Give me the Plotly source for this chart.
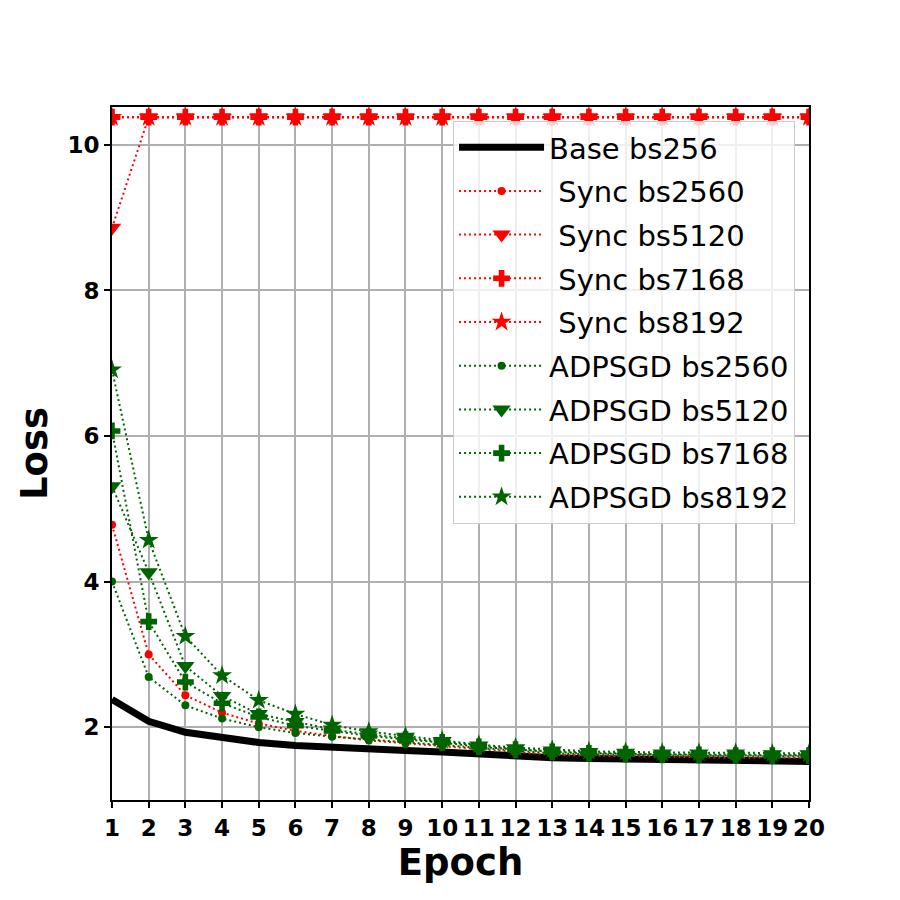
import plotly.graph_objects as go

epochs = list(range(1, 21))

base_bs256 = [2.38, 2.08, 1.93, 1.85, 1.79, 1.75, 1.72, 1.70, 1.68, 1.66, 1.63, 1.60, 1.58, 1.57, 1.56, 1.55, 1.55, 1.54, 1.54, 1.53]
sync_bs2560 = [4.78, 3.00, 2.44, 2.20, 2.05, 1.95, 1.88, 1.82, 1.78, 1.74, 1.69, 1.65, 1.62, 1.61, 1.60, 1.59, 1.59, 1.58, 1.58, 1.58]
sync_bs5120 = [8.86] + [10.38] * 19
sync_bs7168 = [10.38] * 20
sync_bs8192 = [10.38] * 20
adpsgd_bs2560 = [4.00, 2.69, 2.30, 2.12, 2.00, 1.92, 1.87, 1.83, 1.79, 1.76, 1.71, 1.67, 1.64, 1.63, 1.62, 1.61, 1.61, 1.60, 1.60, 1.60]
adpsgd_bs5120 = [5.31, 4.13, 2.84, 2.43, 2.18, 2.07, 1.97, 1.90, 1.85, 1.80, 1.74, 1.70, 1.67, 1.65, 1.64, 1.63, 1.63, 1.62, 1.62, 1.62]
adpsgd_bs7168 = [6.07, 3.45, 2.62, 2.33, 2.14, 2.02, 1.95, 1.88, 1.83, 1.79, 1.73, 1.69, 1.66, 1.64, 1.63, 1.62, 1.62, 1.61, 1.61, 1.61]
adpsgd_bs8192 = [6.91, 4.57, 3.25, 2.71, 2.37, 2.18, 2.03, 1.94, 1.88, 1.82, 1.76, 1.72, 1.69, 1.67, 1.66, 1.65, 1.65, 1.65, 1.64, 1.64]

RED = "#ff0000"
GREEN = "#006400"
FONT = "DejaVu Sans"

series = [
    ("Base bs256", base_bs256, "black", None, None),
    ("\u00a0Sync bs2560", sync_bs2560, RED, "circle", 8),
    ("\u00a0Sync bs5120", sync_bs5120, RED, "triangle-down", 16),
    ("\u00a0Sync bs7168", sync_bs7168, RED, "cross", 14),
    ("\u00a0Sync bs8192", sync_bs8192, RED, "star", 15),
    ("ADPSGD bs2560", adpsgd_bs2560, GREEN, "circle", 8),
    ("ADPSGD bs5120", adpsgd_bs5120, GREEN, "triangle-down", 16),
    ("ADPSGD bs7168", adpsgd_bs7168, GREEN, "cross", 14),
    ("ADPSGD bs8192", adpsgd_bs8192, GREEN, "star", 15),
]

fig = go.Figure()
for i, (name, vals, color, sym, size) in enumerate(series):
    if sym is None:
        fig.add_trace(go.Scatter(
            x=epochs, y=vals, name=name, mode="lines",
            line=dict(color=color, width=7), legendgroup=f"g{i}",
        ))
    else:
        fig.add_trace(go.Scatter(
            x=epochs, y=vals, name=name, mode="lines+markers",
            line=dict(color=color, width=2, dash="2px,3px"),
            marker=dict(symbol=sym, size=size, color=color, line=dict(width=0)),
            legendgroup=f"g{i}",
        ))

fig.update_layout(
    width=900, height=900,
    paper_bgcolor="white", plot_bgcolor="white",
    margin=dict(l=112, r=91, t=107, b=100),
    font=dict(family=FONT, color="black"),
    xaxis=dict(
        range=[1, 20], tickmode="array", tickvals=epochs,
        ticktext=[str(e) for e in epochs],
        tickfont=dict(size=23, weight="bold", family=FONT),
        showgrid=True, gridcolor="#b0b0b0", gridwidth=1.5,
        showline=True, linecolor="black", linewidth=2, mirror=True,
        ticks="outside", ticklen=6, tickwidth=2, tickcolor="black",
        zeroline=False,
        title=dict(text="Epoch", font=dict(size=37, weight="bold", family=FONT), standoff=10),
    ),
    yaxis=dict(
        range=[1.0, 10.52], tickmode="array", tickvals=[2, 4, 6, 8, 10],
        tickfont=dict(size=23, weight="bold", family=FONT),
        showgrid=True, gridcolor="#b0b0b0", gridwidth=1.5,
        showline=True, linecolor="black", linewidth=2, mirror=True,
        ticks="outside", ticklen=6, tickwidth=2, tickcolor="black",
        zeroline=False,
        title=dict(text="Loss", font=dict(size=37, weight="bold", family=FONT), standoff=8),
    ),
    legend=dict(
        x=0.98, y=0.98, xanchor="right", yanchor="top",
        font=dict(size=29, family=FONT, color="black"),
        bgcolor="rgba(255,255,255,0.8)", bordercolor="#cccccc", borderwidth=1,
        tracegroupgap=3, itemwidth=85,
    ),
    showlegend=True,
)

fig.write_html("out.html")
